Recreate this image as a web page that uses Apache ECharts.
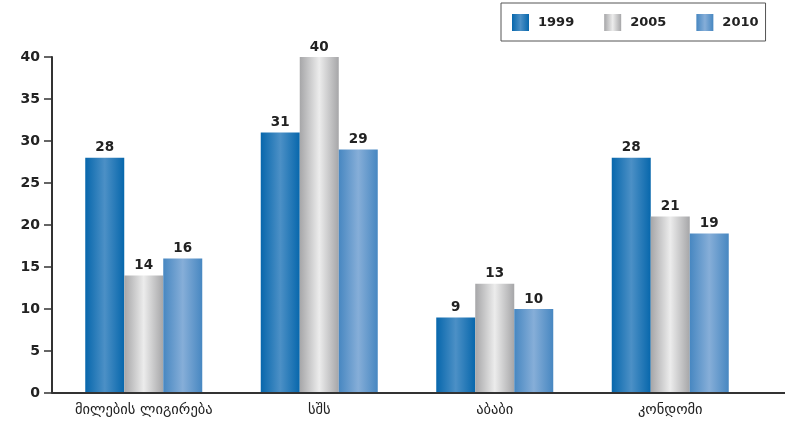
<!DOCTYPE html>
<html><head><meta charset="utf-8">
<script src="https://cdn.jsdelivr.net/npm/echarts@6/dist/echarts.min.js"></script>
<style>html,body{margin:0;padding:0;background:#fff}#c{width:787px;height:423px}</style>
</head><body><div id="c"></div>
<script>
const categories = ['მილების ლიგირება', 'სშს', 'აბაბი', 'კონდომი'];
const seriesNames = ['1999', '2005', '2010'];
const v1999 = [28, 31, 9, 28];
const v2005 = [14, 40, 13, 21];
const v2010 = [16, 29, 10, 19];
const yTicks = { min: 0, max: 40, interval: 5 };

function grad(edge, mid) {
  return new echarts.graphic.LinearGradient(0, 0, 1, 0, [
    { offset: 0, color: edge }, { offset: 0.5, color: mid }, { offset: 1, color: edge }
  ]);
}
const colors = [grad('#0767AC', '#4C90C6'), grad('#A6A6A8', '#ECECEC'), grad('#4787C1', '#86AED8')];
const data = [v1999, v2005, v2010];
const font = '"DejaVu Sans", Verdana, sans-serif';

const chart = echarts.init(document.getElementById('c'), null, { renderer: 'canvas' });
chart.setOption({
  animation: false,
  backgroundColor: '#fff',
  textStyle: { fontFamily: font },
  legend: {
    left: 501, top: 3,
    padding: [11, 7, 10, 11],
    borderColor: '#555', borderWidth: 1,
    itemWidth: 17, itemHeight: 17, itemGap: 30,
    icon: 'rect',
    textStyle: { fontFamily: font, fontWeight: 'bold', fontSize: 13, color: '#222', padding: [0, 0, 0, 4] },
    data: seriesNames
  },
  grid: { left: 56, width: 702, top: 57, bottom: 30 },
  xAxis: {
    type: 'category', data: categories,
    axisLine: { lineStyle: { color: '#333', width: 2 } },
    axisTick: { show: false },
    axisLabel: { interval: 0, hideOverlap: false, fontFamily: font, fontSize: 14.5, color: '#222', margin: 10 }
  },
  yAxis: {
    type: 'value', min: yTicks.min, max: yTicks.max, interval: yTicks.interval,
    offset: 4,
    splitLine: { show: false },
    axisLine: { show: true, lineStyle: { color: '#333', width: 2 } },
    axisTick: { show: true, length: 8, lineStyle: { color: '#333', width: 1.5 } },
    axisLabel: { fontFamily: font, fontWeight: 'bold', fontSize: 14, color: '#222', margin: 12 }
  },
  series: seriesNames.map((n, i) => ({
    name: n, type: 'bar', data: data[i],
    barWidth: 39, barGap: '0%',
    itemStyle: { color: colors[i] },
    label: { show: true, position: 'top', distance: 3, fontFamily: font, fontWeight: 'bold', fontSize: 13.5, color: '#222' }
  }))
});
// extend the baseline to the right edge as in the reference
const p0 = chart.convertToPixel({ yAxisIndex: 0 }, 0);
chart.setOption({
  graphic: [{
    type: 'line', shape: { x1: 52, y1: p0, x2: 785, y2: p0 },
    style: { stroke: '#333', lineWidth: 2 }, z: 10
  }]
});
</script></body></html>
